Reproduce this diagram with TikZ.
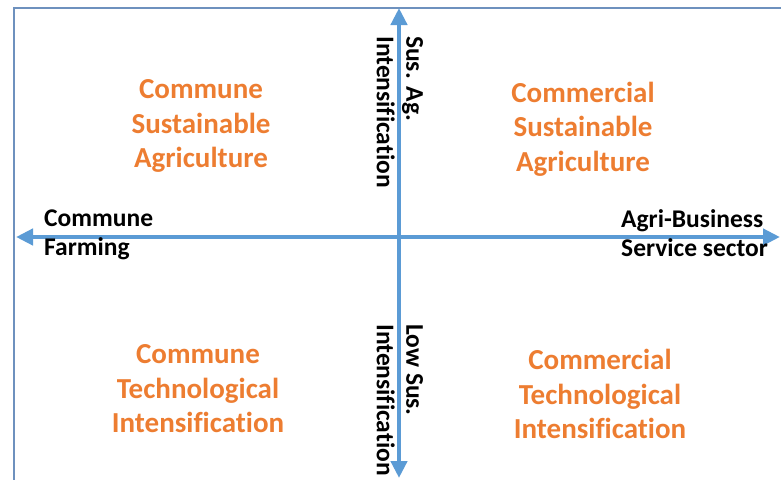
\documentclass[tikz,border=0pt]{standalone}
\usepackage{fontspec}
\setmainfont{Carlito}[Ligatures=NoCommon]
\usetikzlibrary{arrows.meta}
\definecolor{axisblue}{RGB}{91,155,213}
\definecolor{quadorange}{RGB}{237,125,49}
\definecolor{framegray}{RGB}{110,145,190}

\begin{document}
\begin{tikzpicture}[x=1pt, y=-1pt,
    quad/.style={text=quadorange, align=center, inner sep=0pt, font=\fontsize{29}{34.5}\selectfont\bfseries},
    axislabel/.style={align=left, inner sep=0pt, font=\fontsize{25.5}{29.5}\selectfont\bfseries},
    axis/.style={axisblue, line width=4.5pt, {Triangle[length=17pt,width=16pt]}-{Triangle[length=17pt,width=16pt]}}]
    \useasboundingbox (0,0) rectangle (781,479);
    \clip (0,0) rectangle (781,479);
    % Frame (runs past the right and bottom edge)
    \draw[framegray, line width=1.6pt] (14,8) rectangle (800,500);

    % Axis end points
    \coordinate (W) at (16,237);
    \coordinate (E) at (780,237);
    \coordinate (N) at (399,8);
    \coordinate (S) at (399,478);

    % Axes
    \draw[axis] (W) -- (E);
    \draw[axis] (S) -- (N);

    % Axis labels
    \node[axislabel, anchor=west] (commfarm) at (44,235) {Commune\\Farming};
    \node[axislabel, anchor=west] (agribus) at (621,233) {Agri-Business\\Service sector};
    \node[axislabel, rotate=-90, anchor=west] (susag) at (400,36) {Sus. Ag.\\Intensification};
    \node[axislabel, rotate=-90, anchor=west] (lowsus) at (400,324) {Low Sus.\\Intensification};

    % Quadrants
    \node[quad] (TL) at (201,126) {Commune\\Sustainable\\Agriculture};
    \node[quad] (TR) at (583,129) {Commercial\\Sustainable\\Agriculture};
    \node[quad] (BL) at (198,389) {Commune\\Technological\\Intensification};
    \node[quad] (BR) at (600,394) {Commercial\\Technological\\Intensification};
\end{tikzpicture}
\end{document}
